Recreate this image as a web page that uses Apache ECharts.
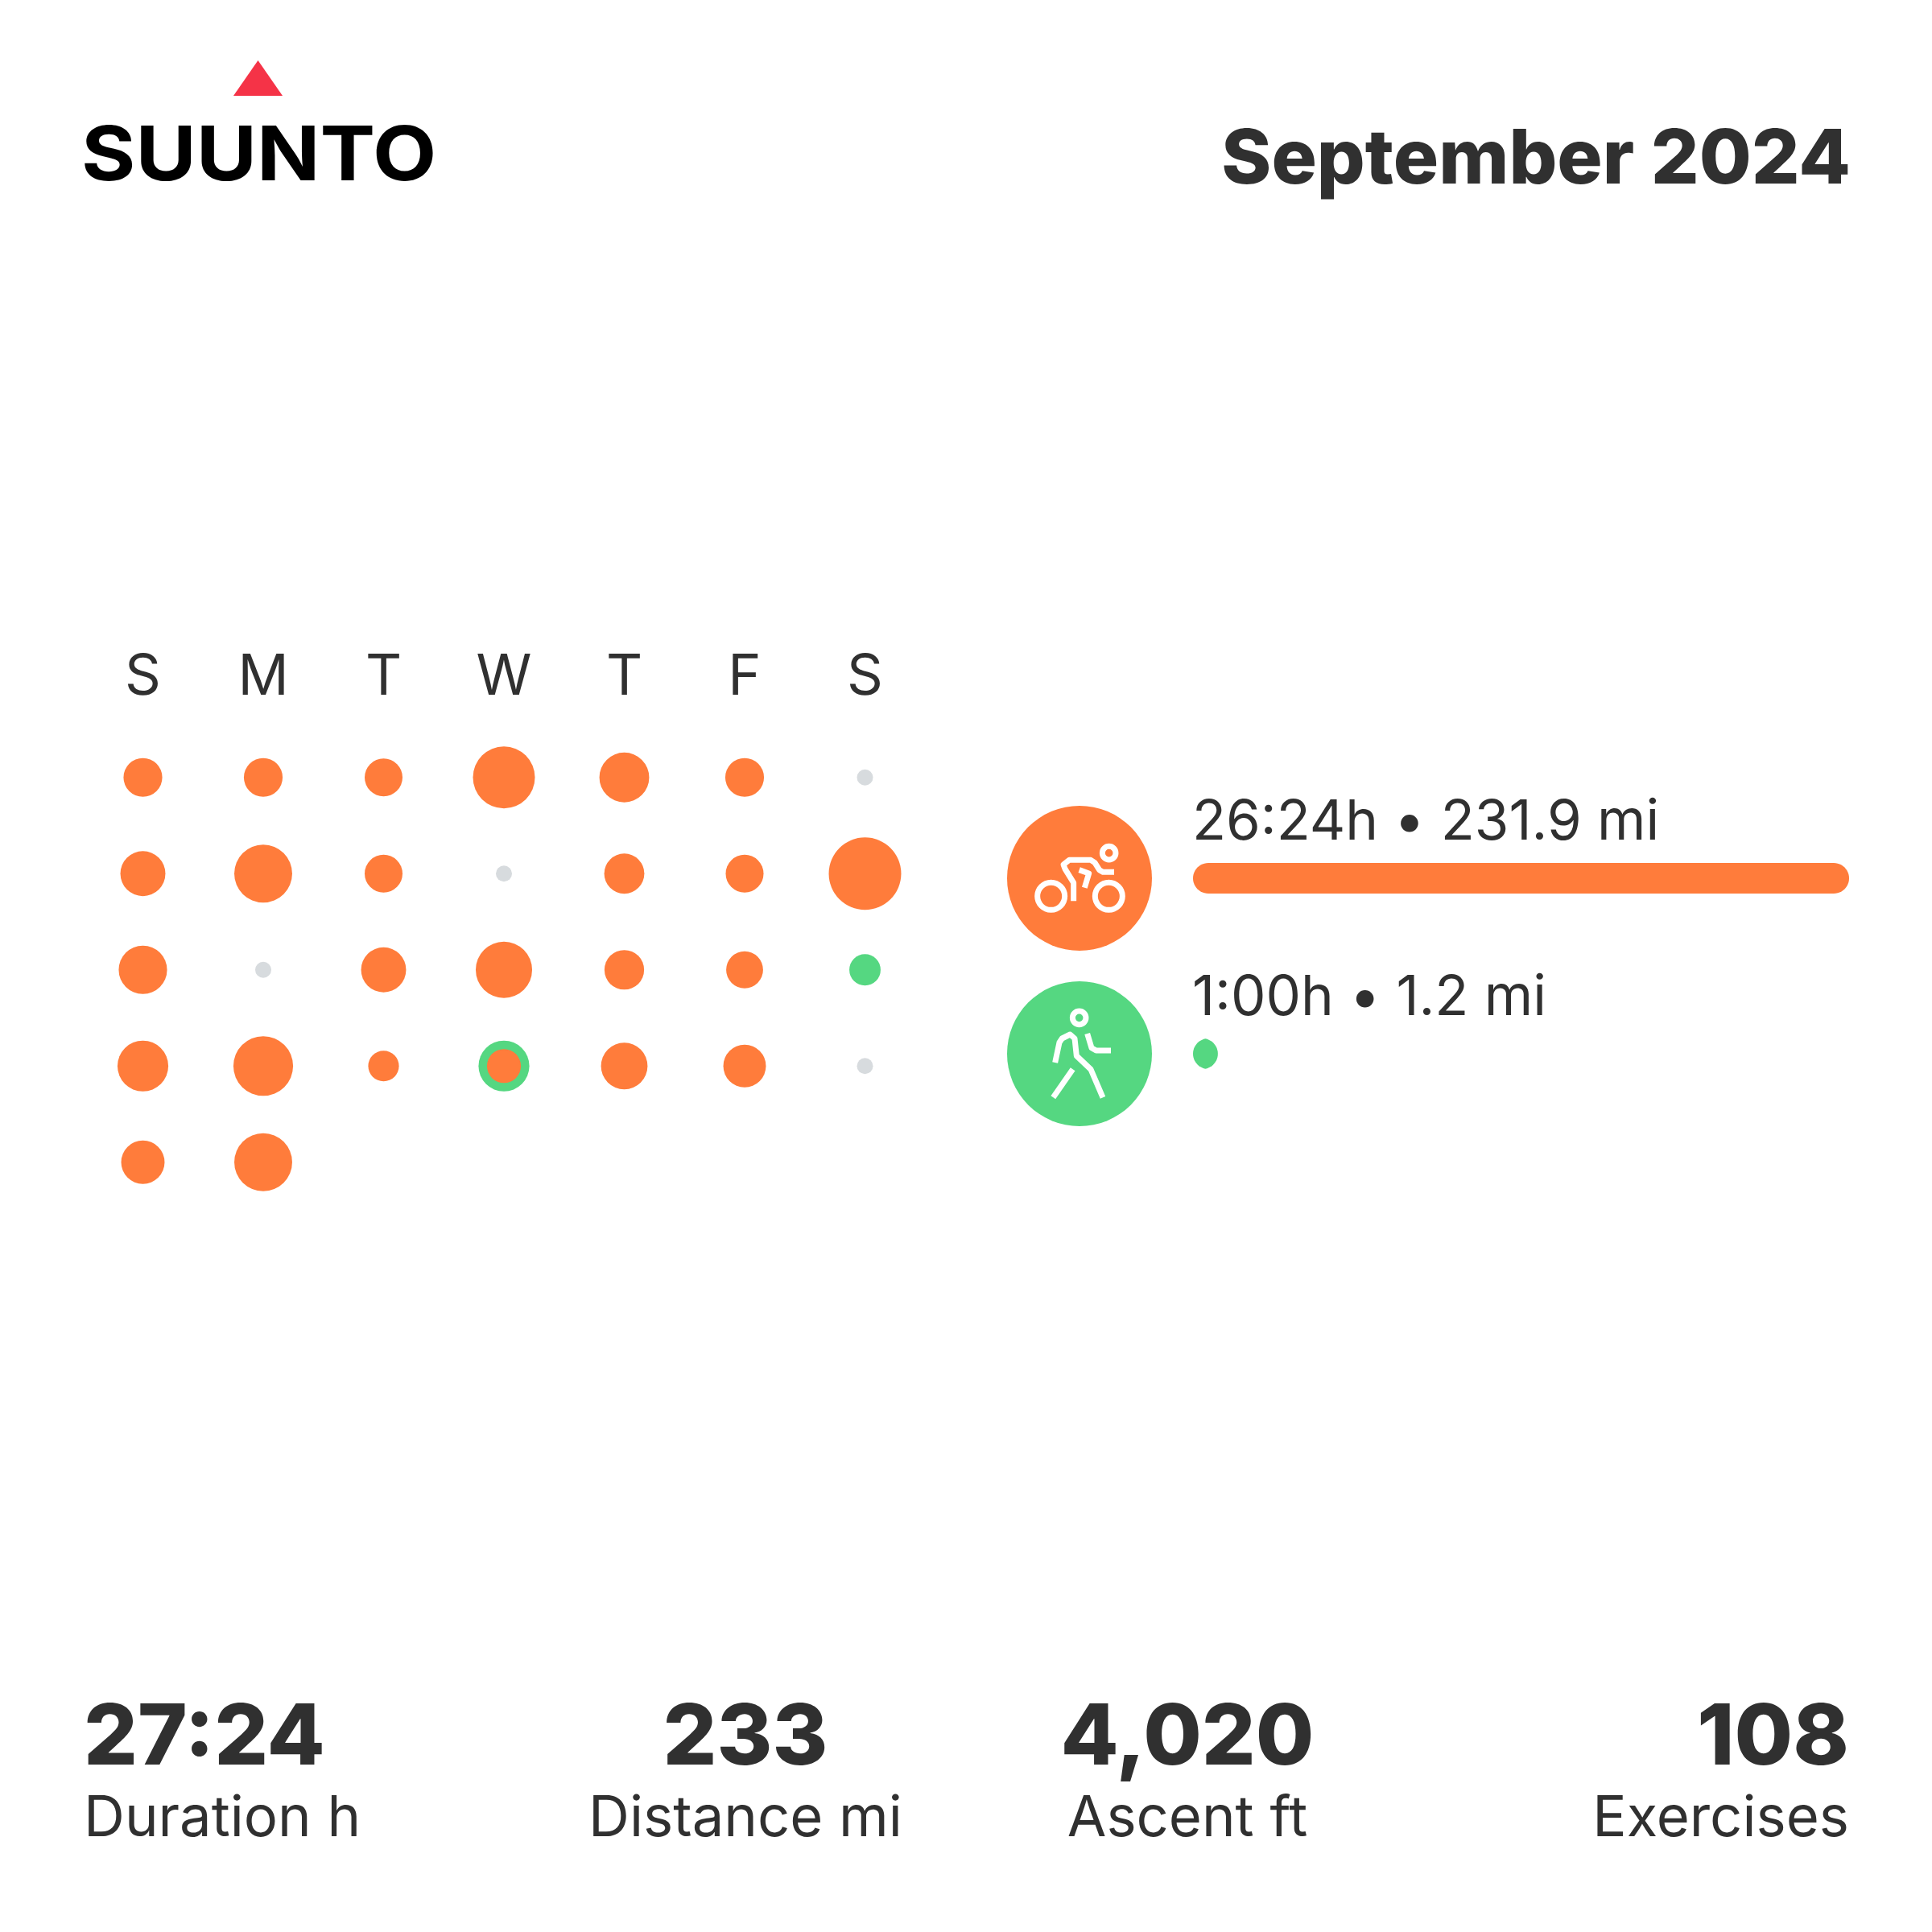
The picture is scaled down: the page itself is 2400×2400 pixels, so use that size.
<!DOCTYPE html>
<html><head><meta charset="utf-8">
<style>html,body{margin:0;padding:0;background:#fff}#c{width:2400px;height:2400px}</style>
<script src="https://cdn.jsdelivr.net/npm/echarts@6/dist/echarts.min.js"></script>
</head><body><div id="c"></div>
<script>
// ---- data ----
const monthTitle = 'September 2024';
const brand = 'SUUNTO';
const weekdays = ['S','M','T','W','T','F','S'];
const weeks = ['W1','W2','W3','W4','W5'];
// minutes per day, September 1..30 (first day is a Sunday)
const cyclingMinutes = [43,43,41,110,71,43,0, 58,96,41,0,46,41,150, 67,0,58,91,45,39,0, 74,102,27,33,62,52,0, 54,96];
const walkingMinutes = [0,0,0,0,0,0,0, 0,0,0,0,0,0,0, 0,0,0,0,0,0,28, 0,0,0,41,0,0,0, 0,0];
const sports = ['Cycling','Walking'];
const sportTotals = [1584,60];
const sportLabels = ['26:24h • 231.9 mi','1:00h • 1.2 mi'];
const statValues = ['27:24','233','4,020','108'];
const statNames = ['Duration h','Distance mi','Ascent ft','Exercises'];

// ---- styling ----
const ORANGE='#FF7C3B', GREEN='#55D781', GREY='#D7DBDE', INK='#303030', RED='#F53347';
const FONT='Inter';
const k=7.34; // px of diameter per sqrt(minute)
const diam=m=>m>0?k*Math.sqrt(m):20;
const pos=i=>[i%7,Math.floor(i/7)];
const dayPts=(arr,f)=>arr.map((m,i)=>[...pos(i),m,i]).filter(f);

const restDays=dayPts(cyclingMinutes,(p)=>p[2]===0&&walkingMinutes[p[3]]===0).map(p=>[p[0],p[1],0]);
const walkPts=dayPts(walkingMinutes,p=>p[2]>0).map(p=>[p[0],p[1],p[2]+cyclingMinutes[p[3]]]);
const ridePts=dayPts(cyclingMinutes,p=>p[2]>0).map(p=>[p[0],p[1],p[2]]);

const scatter=(name,data,color,z)=>({name,type:'scatter',xAxisIndex:0,yAxisIndex:0,data,z,
  symbol:'circle',symbolSize:v=>diam(v[2]),itemStyle:{color,opacity:1},silent:true});

const stroke={stroke:'#fff',lineWidth:7,fill:null,lineJoin:'round'};
const ic=(x,y)=>[1220+x/3,960+y/3];
const line=pts=>({type:'polyline',z:20,shape:{points:pts.map(p=>ic(p[0],p[1]))},style:stroke});
const ring=(x,y,r)=>{const c=ic(x,y);return {type:'circle',z:20,shape:{cx:c[0],cy:c[1],r},style:stroke};};
const disc=(cy,fill)=>({type:'circle',z:10,shape:{cx:1341,cy,r:90},style:{fill}});
const text=(t,x,y,size,weight,align,fill,sx)=>({type:'text',z:20,x,y,scaleX:sx||1,style:{text:t,fill:fill||INK,font:`${weight} ${size}px ${FONT}`,align,verticalAlign:'middle'}});

const statX=[104,926,1475,2297], statAlign=['left','center','center','right'];
const graphics=[
  {type:'polygon',z:20,shape:{points:[[320.5,75],[290,119],[351,119]]},style:{fill:RED}},
  text(brand,101,196,94,'700','left','#000',1.095),
  text(monthTitle,2299,200,94,'800','right'),
  disc(1091,ORANGE),disc(1309,GREEN),
  ring(257,460,17),ring(472,460,17),ring(473,299,8.3),
  line([[341,478],[341,410],[309,358],[303,342],[325,325],[405,325],[420,335],[437,362],[450,370],[492,370]]),
  line([[362,362],[398,375],[382,428]]),
  ring(362,913,8.3),
  line([[272,1080],[288,1005],[298,990],[328,975],[345,990],[352,1055],[405,1105],[450,1210]]),
  line([[392,972],[408,1025],[425,1035],[480,1035]]),
  line([[338,1105],[265,1210]])
];
statValues.forEach((v,i)=>{
  graphics.push(text(v,statX[i],2160,105,'800',statAlign[i]));
  graphics.push(text(statNames[i],statX[i],2260,70.5,'400',statAlign[i]));
});

// bar with true round caps of a fixed radius: a bar narrower than its height becomes a lens
const capBar=(params,api)=>{
  const i=api.value(1), R=19;
  const a=api.coord([0,i]), b=api.coord([api.value(0),i]);
  const cy=a[1], w=b[0]-a[0];
  const A=w>=2*R?Math.PI/2:Math.acos((R-w/2)/R);
  const pts=[], N=24;
  for(let n=0;n<=N;n++){const t=-A+2*A*n/N; pts.push([a[0]+R-R*Math.cos(t),cy+R*Math.sin(t)]);}
  for(let n=0;n<=N;n++){const t=A-2*A*n/N; pts.push([b[0]-R+R*Math.cos(t),cy+R*Math.sin(t)]);}
  return {type:'group',children:[
    {type:'polygon',shape:{points:pts},style:{fill:i?GREEN:ORANGE}},
    {type:'text',x:a[0]-1,y:cy-103,style:{text:sportLabels[i],fill:INK,font:`400 69px ${FONT}`,align:'left',verticalAlign:'top'}}
  ]};
};

const chart=echarts.init(document.getElementById('c'),null,{renderer:'canvas',width:2400,height:2400});
chart.setOption({
  animation:false,backgroundColor:'#fff',
  grid:[
    {left:102.75,top:906,width:1046.5,height:597.5},
    {left:1482,top:982,width:815,height:436}
  ],
  xAxis:[
    {type:'category',gridIndex:0,position:'top',data:weekdays,
     axisLine:{show:false},axisTick:{show:false},splitLine:{show:false},
     axisLabel:{interval:0,margin:29,fontSize:70,fontFamily:FONT,color:INK}},
    {type:'value',gridIndex:1,min:0,max:sportTotals[0],show:false}
  ],
  yAxis:[
    {type:'category',gridIndex:0,inverse:true,data:weeks,show:false},
    {type:'category',gridIndex:1,inverse:true,data:sports,show:false}
  ],
  series:[
    scatter('Rest',restDays,GREY,2),
    scatter('Walking days',walkPts,GREEN,3),
    scatter('Cycling days',ridePts,ORANGE,4),
    {type:'custom',coordinateSystem:'cartesian2d',xAxisIndex:1,yAxisIndex:1,silent:true,clip:false,
     encode:{x:0,y:1},data:sportTotals.map((v,i)=>[v,i]),renderItem:capBar}
  ],
  graphic:graphics
});
</script></body></html>
